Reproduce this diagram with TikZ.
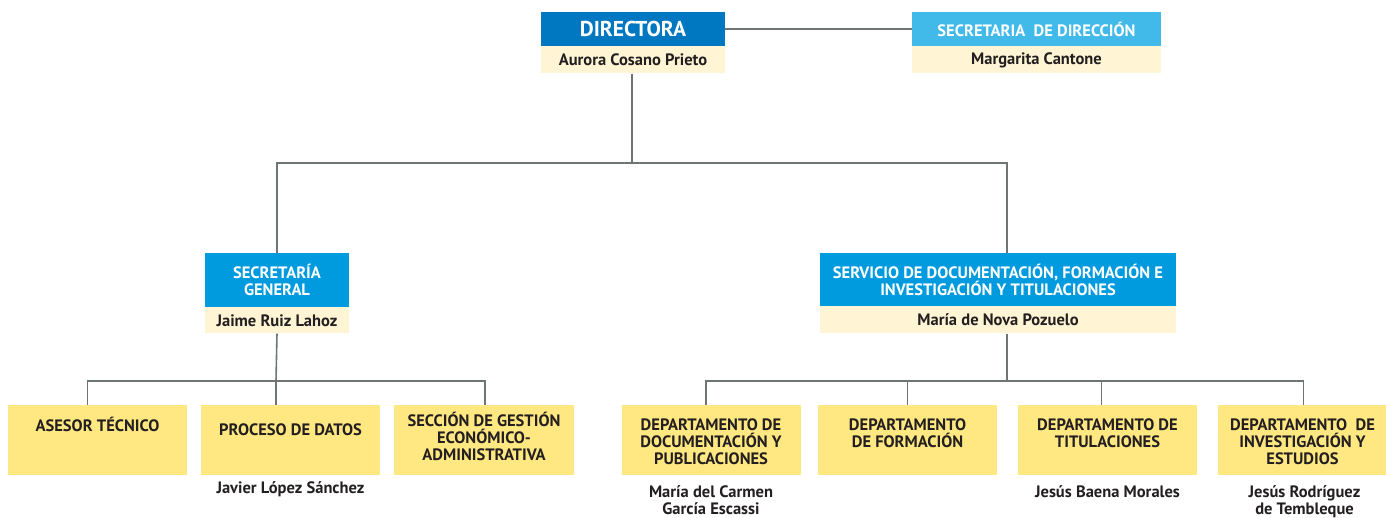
\documentclass[tikz,border=0pt]{standalone}
\usepackage{fontspec}
\setmainfont{PT Sans}
\usetikzlibrary{positioning}

\definecolor{dirblue}{HTML}{0077C1}
\definecolor{secblue}{HTML}{41BAEA}
\definecolor{midblue}{HTML}{009ADE}
\definecolor{cream}{HTML}{FFF5D5}
\definecolor{unityellow}{HTML}{FFE781}
\definecolor{linegray}{HTML}{6F7672}
\definecolor{inkgray}{HTML}{231F20}

\tikzset{
  headbox/.style={rectangle,fill=#1,text=white,inner sep=0pt,align=center,
    font=\bfseries\fontsize{16.5}{17}\selectfont},
  namebox/.style={rectangle,fill=cream,text=inkgray,inner sep=0pt,
    font=\bfseries\fontsize{16.5}{17}\selectfont},
  unitbox/.style={rectangle,fill=unityellow,inner sep=0pt,
    minimum width=179pt,minimum height=70pt},
  unittext/.style={text=inkgray,inner sep=0pt,align=center,
    font=\bfseries\fontsize{16.5}{17}\selectfont},
  link/.style={draw=linegray,line width=1.6pt}
}

\begin{document}
\begin{tikzpicture}[x=1pt,y=-1pt]
\useasboundingbox (0,0) rectangle (1386,518);

% top level
\node[headbox=dirblue,minimum width=184pt,minimum height=34pt,
font=\bfseries\fontsize{21.5}{22}\selectfont](director) at (633,29){DIRECTORA};
\node[namebox,minimum width=184pt,minimum height=27pt,
below=0pt of director](dirname){Aurora Cosano Prieto};

\node[headbox=secblue,minimum width=249pt,minimum height=34pt]
(secdir) at (1036.5,29){SECRETARIA\ \ DE DIRECCIÓN};
\node[namebox,minimum width=249pt,minimum height=27pt,
below=0pt of secdir](secname){Margarita Cantone};

% second level
\node[headbox=midblue,minimum width=144pt,minimum height=54pt]
(secgen) at (277,280){SECRETARÍA\\GENERAL};
\node[namebox,minimum width=144pt,minimum height=26pt,
below=0pt of secgen](secgenname){Jaime Ruiz Lahoz};

\node[headbox=midblue,minimum width=356pt,minimum height=53pt]
(service) at (998,279.5){SERVICIO DE DOCUMENTACIÓN, FORMACIÓN E\\INVESTIGACIÓN Y TITULACIONES};
\node[namebox,minimum width=356pt,minimum height=27pt,
below=0pt of service](servicename){María de Nova Pozuelo};

% units under secretaria general
\node[unitbox](advisor) at (97.5,440){};
\node[unitbox](dataproc) at (290.5,440){};
\node[unitbox,minimum width=180pt](econ) at (484,440){};

\node[unittext,below=12pt of advisor.north](advisortxt){ASESOR TÉCNICO};
\node[unittext,below=19pt of dataproc.north](dataproctxt){PROCESO DE DATOS};
\node[unittext,below=7pt of econ.north](econtxt){SECCIÓN DE GESTIÓN\\ECONÓMICO-\\ADMINISTRATIVA};
\node[unittext,below=6pt of dataproc.south](dataprocname){Javier López Sánchez};

% departments under the service
\node[unitbox](docdept) at (711,440){};
\node[unitbox](formdept) at (907.5,440){};
\node[unitbox](titdept) at (1107.5,440){};
\node[unitbox](invdept) at (1307.5,440){};

\node[unittext,below=14pt of docdept.north](docdepttxt){DEPARTAMENTO DE\\DOCUMENTACIÓN Y\\PUBLICACIONES};
\node[unittext,below=14pt of formdept.north](formdepttxt){DEPARTAMENTO\\DE FORMACIÓN};
\node[unittext,below=14pt of titdept.north](titdepttxt){DEPARTAMENTO DE\\TITULACIONES};
\node[unittext,below=14pt of invdept.north,xshift=-5pt](invdepttxt){DEPARTAMENTO\ \ DE\\INVESTIGACIÓN Y\\ESTUDIOS};

\node[unittext,below=10pt of docdept.south](docdeptname){María del Carmen\\García Escassi};
\node[unittext,below=10pt of titdept.south](titdeptname){Jesús Baena Morales};
\node[unittext,below=10pt of invdept.south,xshift=-3pt](invdeptname){Jesús Rodríguez\\de Tembleque};

% split points
\coordinate (topsplit) at (632,163);
\coordinate (leftsplit) at (276,381);
\coordinate (rightsplit) at (1007,381);

\draw[link] (director.east) -- (director.east -| secdir.west);
\draw[link] (dirname.south -| topsplit) -- (topsplit);
\draw[link] (secgen.north) |- (topsplit) -| (service.north -| rightsplit);
\draw[link] (secgenname.south) -- (leftsplit);
\draw[link] ([xshift=-10pt]advisor.north) |- (leftsplit) -| ([xshift=1pt]econ.north);
\draw[link] (leftsplit) -- (leftsplit |- dataproc.north);
\draw[link] (servicename.south -| rightsplit) -- (rightsplit);
\draw[link] ([xshift=-5pt]docdept.north) |- (rightsplit) -| ([xshift=-4pt]invdept.north);
\draw[link] (formdept.north) -- (formdept.north |- rightsplit);
\draw[link] ([xshift=-6pt]titdept.north) -- ([xshift=-6pt]titdept.north |- rightsplit);
\end{tikzpicture}
\end{document}
